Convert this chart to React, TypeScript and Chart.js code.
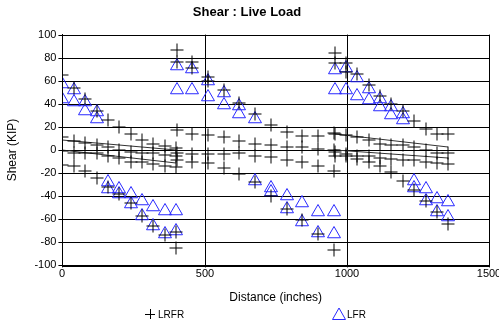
import React, { useEffect, useRef } from 'react';
import { Chart, registerables } from 'chart.js';
Chart.register(...registerables);

// Station positions (inches) for each span
const SPAN1_X = [0, 40, 80, 120, 160, 200, 240, 280, 320, 360, 400];
const SPAN2_X = [402, 457, 512, 567, 622, 677, 733, 788, 844, 899, 955];
const SPAN3_X = [957, 997, 1037, 1077, 1117, 1157, 1197, 1237, 1277, 1317, 1357];

// LRFR (+ markers)
const LRFR_POS_1 = [65, 54, 44, 34, 26, 20, 14, 9, 5, 3.5, 2];
const LRFR_POS_2 = [87, 76, 63, 52, 41, 31, 22, 16, 12, 12, 15];
const LRFR_POS_3 = [84, 75, 66, 56, 47, 40, 34, 25, 18, 14, 14];

const LRFR_POSB_1 = [null, null, null, null, null, null, null, null, null, null, null];
const LRFR_POSB_2 = [76, 71, 60, null, null, null, null, null, null, null, null];
const LRFR_POSB_3 = [75, 68, null, null, null, null, null, null, null, null, null];

const LRFR_UP_1 = [11, 8, 6, 4, 2.4, 0, -1.5, -3, -3, -4, -5];
const LRFR_UP_2 = [17, 14, 12.6, 11, 8, 5.4, 3.9, 3, 2.4, 1, 0];
const LRFR_UP_3 = [14, 12.6, 11, 8.3, 5.4, 3.9, 3.9, 2.4, 0, -3, -3];

const LRFR_LO_1 = [-1, -3, -3, -3, -5, -7, -10.6, -10.6, -12, -14, -15];
const LRFR_LO_2 = [-3, -3.3, -3.3, -3.3, -3, -4.8, -6.2, -9, -10.6, -13.5, -18];
const LRFR_LO_3 = [-2, -3.3, -4.8, -5, -7, -8, -9, -9, -10, -11, -12];

const LRFR_NEG_1 = [-13, -14, -18, -24, -32, -38, -46, -57, -66, -74, -85];
const LRFR_NEG_2 = [-9, -10.6, -11.5, -16, -21, -28, -40, -51, -61, -73, -87];
const LRFR_NEG_3 = [-5, -5, -8, -10.6, -13.5, -19, -26.5, -35, -44, -54, -64];

const LRFR_NEGB_1 = [null, null, null, null, null, null, null, null, null, null, -71];

// LFR (triangles)
const LFR_POS_HI_1 = [57, 52, 42, 33, null, null, null, null, null, null, null];
const LFR_POS_LO_1 = [44, 42, 34, 27, null, null, null, null, null, null, null];
const LFR_POS_HI_2 = [73, 70, 60, 49, 38, 27, null, null, null, null, null];
const LFR_POS_LO_2 = [52, 52, 46, 39, 31, null, null, null, null, null, null];
const LFR_POS_HI_3 = [69, 71, 62, 53, 44.5, 37, 31.5, null, null, null, null];
const LFR_POS_LO_3 = [52, 52, 47, 43, 37, 30, 26, null, null, null, null];

const LFR_NEG_HI_1 = [null, null, null, null, -28, -34, -38, -44, -49, -53, -53];
const LFR_NEG_LO_1 = [null, null, null, null, -34, -38, -47, -57, -66, -73, -70];
const LFR_NEG_HI_2 = [null, null, null, null, null, -26.5, -33, -40, -46, -53.5, -54];
const LFR_NEG_LO_2 = [null, null, null, null, null, null, -36, -51, -62, -72, -73];
const LFR_NEG_HI_3 = [null, null, null, null, null, null, null, -27, -34, -42.5, -45];
const LFR_NEG_LO_3 = [null, null, null, null, null, null, null, -33, -44, -54, -58];

// thin trend lines near zero
const TREND_X_1 = [0, 400];
const TREND_X_3 = [957, 1357];
const TREND_UPPER_1 = [9, 0];
const TREND_LOWER_1 = [0, -11];
const TREND_UPPER_3 = [14, 3];
const TREND_LOWER_3 = [0, -7];

const X_TICKS = [0, 500, 1000, 1500];
const LEGEND_LABELS = ['LRFR', 'LFR'];

type Pt = { x: number; y: number };
function pts(xs: number[], ys: (number | null)[]): Pt[] {
  const out: Pt[] = [];
  xs.forEach((x, i) => {
    const y = ys[i];
    if (y !== null && y !== undefined) out.push({ x, y });
  });
  return out;
}
function spans(a: (number | null)[], b: (number | null)[], c: (number | null)[]): Pt[] {
  return [...pts(SPAN1_X, a), ...pts(SPAN2_X, b), ...pts(SPAN3_X, c)];
}

const BLUE = 'rgb(40,40,255)';
const FONT = "'Liberation Sans', Arial, sans-serif";

export default function App() {
  const ref = useRef<HTMLCanvasElement>(null);
  useEffect(() => {
    if (!ref.current) return;
    const cross = (label: string, data: Pt[]) => ({
      label,
      data,
      showLine: false,
      pointStyle: 'cross',
      pointRadius: 6.5,
      pointHoverRadius: 6.5,
      borderColor: '#000',
      backgroundColor: '#000',
      borderWidth: 1,
    });
    const tri = (label: string, data: Pt[]) => ({
      label,
      data,
      showLine: false,
      pointStyle: 'triangle',
      pointRadius: 7.5,
      pointHoverRadius: 7.5,
      borderColor: BLUE,
      backgroundColor: 'rgba(0,0,0,0)',
      borderWidth: 1,
    });
    const line = (data: Pt[]) => ({
      label: '_line',
      data,
      showLine: true,
      pointRadius: 0,
      borderColor: '#333',
      borderWidth: 1,
      fill: false,
    });
    const chart = new Chart(ref.current, {
      type: 'scatter',
      data: {
        datasets: [
          cross(LEGEND_LABELS[0], spans(LRFR_POS_1, LRFR_POS_2, LRFR_POS_3)),
          cross('_b', spans(LRFR_POSB_1, LRFR_POSB_2, LRFR_POSB_3)),
          cross('_c', spans(LRFR_UP_1, LRFR_UP_2, LRFR_UP_3)),
          cross('_d', spans(LRFR_LO_1, LRFR_LO_2, LRFR_LO_3)),
          cross('_e', spans(LRFR_NEG_1, LRFR_NEG_2, LRFR_NEG_3)),
          cross('_f', pts(SPAN1_X, LRFR_NEGB_1)),
          line(pts(TREND_X_1, TREND_UPPER_1)),
          line(pts(TREND_X_1, TREND_LOWER_1)),
          line(pts(TREND_X_3, TREND_UPPER_3)),
          line(pts(TREND_X_3, TREND_LOWER_3)),
          tri(LEGEND_LABELS[1], spans(LFR_POS_HI_1, LFR_POS_HI_2, LFR_POS_HI_3)),
          tri('_g', spans(LFR_POS_LO_1, LFR_POS_LO_2, LFR_POS_LO_3)),
          tri('_h', spans(LFR_NEG_HI_1, LFR_NEG_HI_2, LFR_NEG_HI_3)),
          tri('_i', spans(LFR_NEG_LO_1, LFR_NEG_LO_2, LFR_NEG_LO_3)),
        ] as any,
      },
      options: {
        animation: false,
        responsive: true,
        maintainAspectRatio: false,
        layout: { padding: { left: 5, right: 10, top: 0, bottom: 24 } },
        plugins: {
          tooltip: { enabled: false },
          title: {
            display: true,
            text: 'Shear : Live Load',
            color: '#000',
            font: { family: FONT, size: 13, weight: 'bold' },
            padding: { top: 5, bottom: 14 },
          },
          legend: { display: false },
        },
        scales: {
          x: {
            type: 'linear',
            min: 0,
            max: 1500,
            alignToPixels: true,
            afterBuildTicks: (axis: any) => {
              axis.ticks = X_TICKS.map((v) => ({ value: v }));
            },
            afterFit: (scale: any) => {
              scale.paddingRight = 0;
            },
            ticks: {
              color: '#000',
              font: { family: FONT, size: 11 },
              maxRotation: 0,
              autoSkip: false,
              padding: 0,
              callback: (v: any) => String(v),
            },
            grid: { color: '#000', lineWidth: 1, tickLength: 2, tickColor: '#000' },
            border: { color: '#000', width: 1 },
            title: {
              display: true,
              text: 'Distance (inches)',
              color: '#000',
              font: { family: FONT, size: 12 },
              padding: { top: 10, bottom: 0 },
            },
          },
          y: {
            type: 'linear',
            min: -100,
            max: 100,
            alignToPixels: true,
            ticks: {
              stepSize: 20,
              autoSkip: false,
              color: '#000',
              font: { family: FONT, size: 11 },
              padding: 2,
              callback: (v: any) => String(v),
            },
            grid: { color: '#000', lineWidth: 1, tickLength: 4, tickColor: '#000' },
            border: { color: '#000', width: 1 },
            title: {
              display: true,
              text: 'Shear (KIP)',
              color: '#000',
              font: { family: FONT, size: 12 },
              padding: { top: 0, bottom: 13 },
            },
          },
        },
      } as any,
      plugins: [
        {
          id: 'frameAndLegend',
          afterDraw(c: any) {
            const { ctx, chartArea } = c;
            ctx.save();
            ctx.strokeStyle = '#000';
            ctx.lineWidth = 1;
            ctx.strokeRect(
              Math.round(chartArea.left) + 0.5,
              Math.round(chartArea.top) + 0.5,
              Math.round(chartArea.right - chartArea.left),
              Math.round(chartArea.bottom - chartArea.top)
            );
            // legend
            const ly = c.height - 15;
            ctx.font = `10px ${FONT}`;
            ctx.fillStyle = '#000';
            ctx.textBaseline = 'middle';
            ctx.textAlign = 'left';
            const cx = 150;
            ctx.beginPath();
            ctx.moveTo(cx - 5, ly + 0.5);
            ctx.lineTo(cx + 5, ly + 0.5);
            ctx.moveTo(cx + 0.5, ly - 5);
            ctx.lineTo(cx + 0.5, ly + 5);
            ctx.stroke();
            ctx.fillText(LEGEND_LABELS[0], cx + 8, ly + 1);
            const tx = 339;
            ctx.strokeStyle = BLUE;
            ctx.beginPath();
            ctx.moveTo(tx, ly - 6);
            ctx.lineTo(tx + 6.5, ly + 5.5);
            ctx.lineTo(tx - 6.5, ly + 5.5);
            ctx.closePath();
            ctx.stroke();
            ctx.fillText(LEGEND_LABELS[1], tx + 8, ly + 1);
            ctx.restore();
          },
        },
      ],
    });
    return () => chart.destroy();
  }, []);
  return (
    <div style={{ position: 'fixed', left: 0, top: 0, width: 499, height: 329, background: '#fff' }}>
      <canvas ref={ref} />
    </div>
  );
}
